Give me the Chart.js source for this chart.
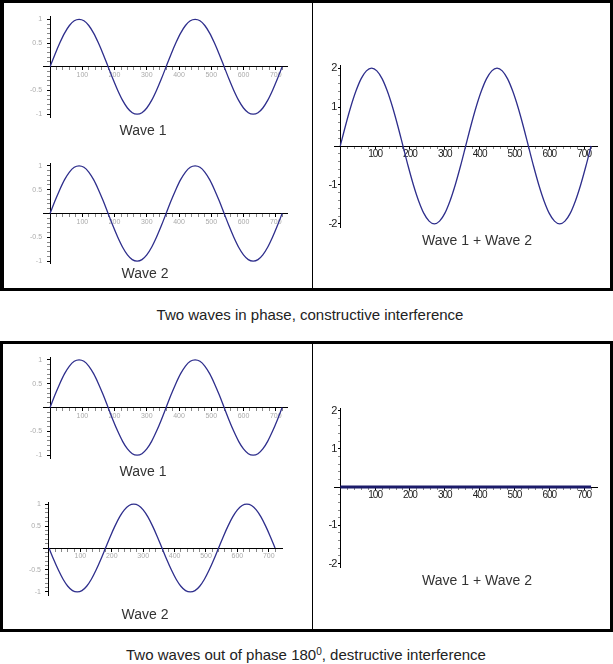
<!DOCTYPE html>
<html>
<head>
<meta charset="utf-8">
<script src="https://cdn.jsdelivr.net/npm/chart.js@4.4.1/dist/chart.umd.min.js"></script>
<style>
  body { margin: 0; background: #fff; width: 613px; height: 664px; position: relative; overflow: hidden;
         font-family: "Liberation Sans", Arial, sans-serif; }
  .frame { position: absolute; box-sizing: border-box; border: 3px solid #000; }
  .divider { position: absolute; width: 1px; background: #000; }
  canvas { position: absolute; }
  .lbl { position: absolute; font-size: 14px; color: #333; white-space: nowrap; transform: translate(-50%, -50%); }
  .cap { position: absolute; font-size: 15px; color: #222; white-space: nowrap; transform: translate(-50%, -50%); }
  .cap sup { font-size: 10px; vertical-align: 5px; line-height: 0; }
</style>
</head>
<body>
<div class="frame" style="left:0;top:0;width:613px;height:291px;border-left-width:4px"></div>
<div class="divider" style="left:312px;top:0;height:291px"></div>
<div class="frame" style="left:0;top:341px;width:613px;height:291px"></div>
<div class="divider" style="left:312px;top:341px;height:291px"></div>

<canvas id="inWave1" width="305" height="140" style="left:5px;top:4px"></canvas>
<canvas id="inWave2" width="305" height="124" style="left:5px;top:146px"></canvas>
<canvas id="inSum" width="295" height="200" style="left:314px;top:40px"></canvas>
<canvas id="outWave1" width="305" height="125" style="left:5px;top:345px"></canvas>
<canvas id="outWave2" width="305" height="115" style="left:5px;top:490px"></canvas>
<canvas id="outSum" width="295" height="200" style="left:314px;top:380px"></canvas>

<div class="lbl" style="left:143px;top:130px">Wave 1</div>
<div class="lbl" style="left:145px;top:273px">Wave 2</div>
<div class="lbl" style="left:477px;top:240px">Wave 1 + Wave 2</div>
<div class="cap" style="left:310px;top:314px">Two waves in phase, constructive interference</div>
<div class="lbl" style="left:143px;top:471px">Wave 1</div>
<div class="lbl" style="left:145px;top:614px">Wave 2</div>
<div class="lbl" style="left:477px;top:580px">Wave 1 + Wave 2</div>
<div class="cap" style="left:306px;top:654px">Two waves out of phase 180<sup>0</sup>, destructive interference</div>

<script>
// phase angle in degrees
const angles = [
  0, 15, 30, 45, 60, 75, 90, 105, 120, 135, 150, 165,
  180, 195, 210, 225, 240, 255, 270, 285, 300, 315, 330, 345,
  360, 375, 390, 405, 420, 435, 450, 465, 480, 495, 510, 525,
  540, 555, 570, 585, 600, 615, 630, 645, 660, 675, 690, 705,
  720
];

const wave1 = [
  0, 0.26, 0.5, 0.71, 0.87, 0.97, 1, 0.97, 0.87, 0.71, 0.5, 0.26,
  0, -0.26, -0.5, -0.71, -0.87, -0.97, -1, -0.97, -0.87, -0.71, -0.5, -0.26,
  0, 0.26, 0.5, 0.71, 0.87, 0.97, 1, 0.97, 0.87, 0.71, 0.5, 0.26,
  0, -0.26, -0.5, -0.71, -0.87, -0.97, -1, -0.97, -0.87, -0.71, -0.5, -0.26,
  0
];

// in phase: wave 2 looks the same as wave 1
const wave2InPhase = [
  0, 0.26, 0.5, 0.71, 0.87, 0.97, 1, 0.97, 0.87, 0.71, 0.5, 0.26,
  0, -0.26, -0.5, -0.71, -0.87, -0.97, -1, -0.97, -0.87, -0.71, -0.5, -0.26,
  0, 0.26, 0.5, 0.71, 0.87, 0.97, 1, 0.97, 0.87, 0.71, 0.5, 0.26,
  0, -0.26, -0.5, -0.71, -0.87, -0.97, -1, -0.97, -0.87, -0.71, -0.5, -0.26,
  0
];

const sumInPhase = [
  0, 0.52, 1, 1.41, 1.73, 1.93, 2, 1.93, 1.73, 1.41, 1, 0.52,
  0, -0.52, -1, -1.41, -1.73, -1.93, -2, -1.93, -1.73, -1.41, -1, -0.52,
  0, 0.52, 1, 1.41, 1.73, 1.93, 2, 1.93, 1.73, 1.41, 1, 0.52,
  0, -0.52, -1, -1.41, -1.73, -1.93, -2, -1.93, -1.73, -1.41, -1, -0.52,
  0
];

// 180 degrees out of phase
const wave2OutPhase = [
  0, -0.26, -0.5, -0.71, -0.87, -0.97, -1, -0.97, -0.87, -0.71, -0.5, -0.26,
  0, 0.26, 0.5, 0.71, 0.87, 0.97, 1, 0.97, 0.87, 0.71, 0.5, 0.26,
  0, -0.26, -0.5, -0.71, -0.87, -0.97, -1, -0.97, -0.87, -0.71, -0.5, -0.26,
  0, 0.26, 0.5, 0.71, 0.87, 0.97, 1, 0.97, 0.87, 0.71, 0.5, 0.26,
  0
];

const sumOutPhase = [
  0, 0, 0, 0, 0, 0, 0, 0, 0, 0, 0, 0,
  0, 0, 0, 0, 0, 0, 0, 0, 0, 0, 0, 0,
  0, 0, 0, 0, 0, 0, 0, 0, 0, 0, 0, 0,
  0, 0, 0, 0, 0, 0, 0, 0, 0, 0, 0, 0,
  0
];

const xTicks = [100, 200, 300, 400, 500, 600, 700];
const yTicksWave = [-1, -0.5, 0.5, 1];
const yTicksSum = [-2, -1, 1, 2];

const lineColor = '#2e2e8c';

// minor tick positions (no labels)
function minors(from, to, step, majors) {
  const out = [];
  for (let v = from; v <= to + 1e-9; v += step) {
    const r = Math.round(v * 100) / 100;
    if (r !== 0 && !majors.includes(r)) out.push(r);
  }
  return out;
}

function axis(min, max, majors, minorList, pos, tickFont, tickColor, tickLen, pad, showLabels) {
  const all = majors.concat(minorList).sort((a, b) => a - b);
  return {
    type: 'linear',
    min: min,
    max: max,
    position: pos,
    border: { display: true, color: '#000', width: 1 },
    grid: {
      drawOnChartArea: false,
      tickLength: tickLen,
      tickColor: ctx => (ctx.tick && majors.includes(ctx.tick.value)) ? '#000' : '#888'
    },
    ticks: {
      display: showLabels,
      autoSkip: false,
      maxRotation: 0,
      padding: pad,
      color: tickColor,
      font: tickFont,
      callback: v => majors.includes(v) ? String(v) : ''
    },
    afterBuildTicks: s => { s.ticks = all.map(v => ({ value: v })); }
  };
}

// y labels sit left of the axis line at x = 0
function yLabels(majors, font, color, gap, spacing) {
  return {
    id: 'yLabels',
    beforeDraw(c) { c.ctx.letterSpacing = spacing; },
    afterDraw(c) {
      const ctx = c.ctx, xs = c.scales.x, ys = c.scales.y;
      const ax = xs.getPixelForValue(0);
      ctx.save();
      ctx.font = font;
      ctx.fillStyle = color;
      ctx.textAlign = 'right';
      ctx.textBaseline = 'middle';
      majors.forEach(v => ctx.fillText(String(v), ax - gap, ys.getPixelForValue(v)));
      ctx.restore();
    }
  };
}

function waveChart(id, values, o) {
  const pts = angles.map((a, i) => ({ x: a, y: values[i] }));
  const small = !o.big;
  const font = small ? { family: 'Liberation Sans', size: 7 } : { family: 'Liberation Sans', size: 10 };
  const col = small ? '#ababab' : '#222';
  const yMajors = small ? yTicksWave : yTicksSum;
  return new Chart(document.getElementById(id), {
    type: 'line',
    data: {
      datasets: [{
        data: pts,
        borderColor: o.color || lineColor,
        borderWidth: o.width || 1.3,
        pointRadius: 0,
        cubicInterpolationMode: 'monotone',
        fill: false
      }]
    },
    options: {
      responsive: false,
      animation: false,
      events: [],
      layout: { padding: o.pad },
      plugins: { legend: { display: false }, tooltip: { enabled: false } },
      scales: {
        x: axis(o.x[0], o.x[1], xTicks, minors(20, 720, 20, xTicks), { y: 0 }, font, col,
                small ? 3 : 2, small ? 1 : 0, true),
        y: axis(o.y[0], o.y[1], yMajors,
                small ? minors(-1, 1, 0.1, yTicksWave) : minors(-2, 2, 0.2, yTicksSum),
                { x: 0 }, font, col, small ? 3 : 2, 2, false)
      }
    },
    plugins: [small
      ? yLabels(yMajors, '7px "Liberation Sans"', col, 8, '0px')
      : yLabels(yMajors, '11px "Liberation Sans"', col, 4, '-1px')]
  });
}

waveChart('inWave1', wave1, { pad: { left: 38, right: 23, top: 12, bottom: 27 }, x: [-22, 735], y: [-1.06, 1.07] });
waveChart('inWave2', wave2InPhase, { pad: { left: 38, right: 23, top: 17, bottom: 7 }, x: [-22, 735], y: [-1.04, 1.06] });
waveChart('inSum', sumInPhase, { big: true, pad: { left: 20, right: 12, top: 25, bottom: 13 }, x: [-18, 737], y: [-2.08, 2.08] });
waveChart('outWave1', wave1, { pad: { left: 38, right: 23, top: 12, bottom: 12 }, x: [-22, 735], y: [-1.06, 1.06] });
waveChart('outWave2', wave2OutPhase, { pad: { left: 38, right: 28, top: 12, bottom: 10 }, x: [-19, 742], y: [-1.07, 1.05] });
waveChart('outSum', sumOutPhase, { big: true, color: '#1c1c6a', width: 3, pad: { left: 20, right: 12, top: 28, bottom: 13 }, x: [-18, 737], y: [-2.09, 2.07] });
</script>
</body>
</html>
